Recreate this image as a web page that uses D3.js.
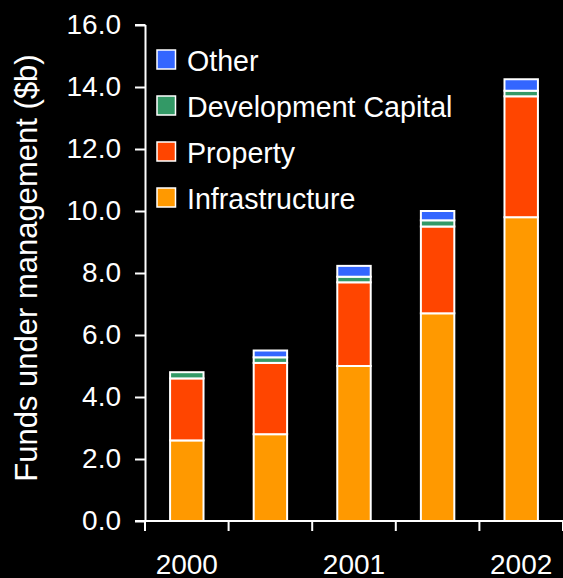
<!DOCTYPE html>
<html>
<head>
<meta charset="utf-8">
<script src="https://cdn.jsdelivr.net/npm/d3@7"></script>
<style>
  html, body { margin: 0; padding: 0; background: #000; }
  svg { display: block; }
  text { font-family: "Liberation Sans", Arial, sans-serif; fill: #fff; }
</style>
</head>
<body>
<svg id="chart" width="563" height="578"></svg>
<script>
// Funds under management by half-year, stacked by fund type ($b)
const periods = ["2000", "2000b", "2001", "2001b", "2002"];
const periodLabels = ["2000", "", "2001", "", "2002"];
const infrastructure = [2.6, 2.8, 5.0, 6.7, 9.8];
const property = [2.0, 2.3, 2.7, 2.8, 3.9];
const developmentCapital = [0.2, 0.18, 0.18, 0.2, 0.18];
const other = [0.0, 0.22, 0.35, 0.3, 0.37];
const seriesNames = ["Infrastructure", "Property", "Development Capital", "Other"];
const seriesColors = ["#FF9900", "#FF4500", "#339966", "#3366FF"];
const yTicks = [0, 2, 4, 6, 8, 10, 12, 14, 16];

const rows = periods.map((p, i) => ({
  period: p,
  "Infrastructure": infrastructure[i],
  "Property": property[i],
  "Development Capital": developmentCapital[i],
  "Other": other[i]
}));

const svg = d3.select("#chart");
const margin = { left: 145, right: 0, top: 25, bottom: 57 };
const width = 563, height = 578;

const x = d3.scaleBand()
  .domain(periods)
  .range([margin.left, width - margin.right])
  .paddingInner(0.6)
  .paddingOuter(0.3);

const y = d3.scaleLinear()
  .domain([0, 16])
  .range([height - margin.bottom, margin.top]);

const color = d3.scaleOrdinal().domain(seriesNames).range(seriesColors);

const stacked = d3.stack().keys(seriesNames)(rows);

// stacked segments
svg.append("g")
  .selectAll("g")
  .data(stacked)
  .join("g")
  .attr("fill", d => color(d.key))
  .selectAll("rect")
  .data(d => d.filter(s => s[1] - s[0] > 0))
  .join("rect")
  .attr("x", d => x(d.data.period))
  .attr("y", d => y(d[1]))
  .attr("width", x.bandwidth())
  .attr("height", d => y(d[0]) - y(d[1]))
  .attr("stroke", "#fff")
  .attr("stroke-width", 2);

// y axis
const yAxis = svg.append("g")
  .attr("transform", `translate(${margin.left},0)`)
  .call(d3.axisLeft(y).tickValues(yTicks).tickFormat(d3.format(".1f")).tickSize(10).tickPadding(14));
yAxis.select(".domain").attr("stroke", "#fff").attr("stroke-width", 2)
  .attr("d", `M0.5,${y(16)}H-10M0.5,${y(16)}V${y(0)}`);
yAxis.selectAll(".tick line").attr("stroke", "#fff").attr("stroke-width", 2);
yAxis.selectAll(".tick text")
  .attr("fill", "#fff").attr("font-size", 28)
  .style("font-family", "'Liberation Sans', Arial, sans-serif");

// x axis with ticks between categories
const xAxisG = svg.append("g").attr("transform", `translate(0,${y(0)})`);
xAxisG.append("line")
  .attr("x1", margin.left - 10).attr("x2", width)
  .attr("stroke", "#fff").attr("stroke-width", 2);
const boundaries = d3.range(periods.length + 1).map(i => margin.left + i * (width - margin.left) / periods.length);
xAxisG.selectAll("line.tick")
  .data(boundaries)
  .join("line")
  .attr("class", "tick")
  .attr("x1", d => d).attr("x2", d => d)
  .attr("y1", 0).attr("y2", 10)
  .attr("stroke", "#fff").attr("stroke-width", 2);
xAxisG.selectAll("text")
  .data(periods.map((p, i) => ({ p, label: periodLabels[i] })).filter(d => d.label))
  .join("text")
  .attr("x", d => x(d.p) + x.bandwidth() / 2)
  .attr("y", 53)
  .attr("text-anchor", "middle")
  .attr("font-size", 28)
  .text(d => d.label);

// y axis title
svg.append("text")
  .attr("transform", `translate(37,268) rotate(-90)`)
  .attr("text-anchor", "middle")
  .attr("font-size", 31)
  .text("Funds under management ($b)");

// legend
const legendItems = seriesNames.slice().reverse();
const legend = svg.append("g").attr("transform", "translate(157,50)");
const li = legend.selectAll("g")
  .data(legendItems)
  .join("g")
  .attr("transform", (d, i) => `translate(0,${i * 46})`);
li.append("rect")
  .attr("width", 18.5).attr("height", 19)
  .attr("fill", d => color(d))
  .attr("stroke", "#fff").attr("stroke-width", 1.5);
li.append("text")
  .attr("x", 30).attr("y", 21)
  .attr("font-size", 28.6)
  .text(d => d);
</script>
</body>
</html>
